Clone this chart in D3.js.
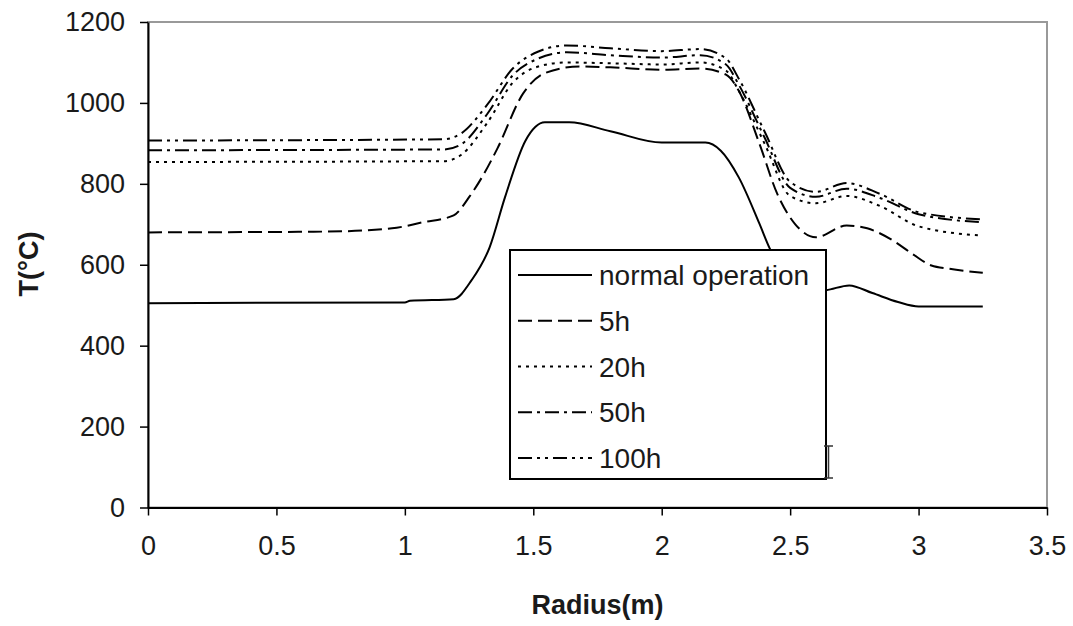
<!DOCTYPE html>
<html>
<head>
<meta charset="utf-8">
<script src="https://cdn.jsdelivr.net/npm/d3@7/dist/d3.min.js"></script>
<style>
  html, body { margin: 0; padding: 0; background: #fff; }
  svg { display: block; }
  text { font-family: "Liberation Sans", Arial, sans-serif; fill: #1a1a1a; }
</style>
</head>
<body>
<svg id="chart" width="1073" height="626"></svg>
<script>
// Temperature profiles along the radius for several times after loss of cooling
const seriesNames = ["normal operation", "5h", "20h", "50h", "100h"];

const radiusNormal = [0, 1.0, 1.02, 1.19, 1.26, 1.33, 1.39, 1.47, 1.545, 1.64, 1.8, 2.0, 2.17, 2.23, 2.3, 2.38, 2.42, 2.5, 2.6, 2.64, 2.73, 2.82, 2.92, 3.0, 3.25];
const tempNormal   = [505, 507, 511, 515, 562, 643, 767, 907, 952, 952, 930, 902, 902, 882, 816, 702, 641, 565, 535, 537, 549, 530, 508, 497, 497];

const radius5h = [0, 0.7, 0.95, 1.07, 1.19, 1.25, 1.3, 1.36, 1.46, 1.55, 1.68, 1.8, 2.0, 2.15, 2.25, 2.3, 2.38, 2.45, 2.52, 2.6, 2.72, 2.8, 2.9, 2.98, 3.05, 3.12, 3.25];
const temp5h   = [680, 682, 690, 705, 722, 767, 816, 887, 1023, 1075, 1090, 1088, 1082, 1085, 1070, 1030, 900, 775, 700, 668, 697, 690, 660, 625, 598, 590, 580];

const radiusLong = [0, 1.15, 1.22, 1.32, 1.42, 1.52, 1.63, 1.8, 2.0, 2.15, 2.25, 2.3, 2.4, 2.5, 2.6, 2.72, 2.85, 3.0, 3.25];
const temp20h  = [854, 856, 872, 950, 1050, 1090, 1100, 1098, 1095, 1100, 1080, 1030, 900, 770, 752, 770, 745, 695, 672];
const temp50h  = [883, 885, 898, 972, 1068, 1110, 1125, 1118, 1112, 1118, 1095, 1045, 915, 790, 768, 788, 765, 725, 705];
const temp100h = [907, 910, 925, 995, 1085, 1127, 1142, 1135, 1128, 1133, 1110, 1060, 930, 805, 780, 802, 775, 730, 712];

const xTicks = [0, 0.5, 1, 1.5, 2, 2.5, 3, 3.5];
const yTicks = [0, 200, 400, 600, 800, 1000, 1200];

const seriesData = [
  { name: seriesNames[0], r: radiusNormal, t: tempNormal, dash: null },
  { name: seriesNames[1], r: radius5h, t: temp5h, dash: "14,6" },
  { name: seriesNames[2], r: radiusLong, t: temp20h, dash: "3,5" },
  { name: seriesNames[3], r: radiusLong, t: temp50h, dash: "14,5,3,5" },
  { name: seriesNames[4], r: radiusLong, t: temp100h, dash: "14,5,3,5,3,5" }
];

const svg = d3.select("#chart");
const plot = { left: 148, right: 1047, top: 22, bottom: 507.5 };

const x = d3.scaleLinear().domain([0, 3.5]).range([plot.left, plot.right]);
const y = d3.scaleLinear().domain([0, 1200]).range([plot.bottom, plot.top]);

// plot-area frame (top and right edges show in grey)
svg.append("rect")
  .attr("x", plot.left).attr("y", plot.top)
  .attr("width", plot.right - plot.left).attr("height", plot.bottom - plot.top)
  .attr("fill", "none").attr("stroke", "#999").attr("stroke-width", 2);

// curves
const line = d3.line()
  .x(d => x(d[0]))
  .y(d => y(d[1]))
  .curve(d3.curveMonotoneX);

svg.append("g").selectAll("path")
  .data(seriesData)
  .join("path")
  .attr("d", s => line(s.r.map((rv, i) => [rv, s.t[i]])))
  .attr("fill", "none")
  .attr("stroke", "#000")
  .attr("stroke-width", 2)
  .attr("stroke-dasharray", s => s.dash);

// axes
const fontSize = 27;
const xAxis = d3.axisBottom(x).tickValues(xTicks).tickSize(8).tickSizeOuter(0).tickPadding(20)
  .tickFormat(d => String(d));
const yAxis = d3.axisLeft(y).tickValues(yTicks).tickSize(8).tickSizeOuter(0).tickPadding(15)
  .tickFormat(d => String(d));

const gx = svg.append("g").attr("transform", `translate(0,${plot.bottom})`).call(xAxis);
const gy = svg.append("g").attr("transform", `translate(${plot.left},0)`).call(yAxis);

[gx, gy].forEach(g => {
  g.select(".domain").attr("stroke", "#000").attr("stroke-width", 2);
  g.selectAll(".tick line").attr("stroke", "#000").attr("stroke-width", 1.5);
  g.selectAll(".tick text")
    .attr("font-family", "Liberation Sans, Arial, sans-serif")
    .attr("font-size", fontSize)
    .attr("fill", "#1a1a1a");
});

// axis titles
svg.append("text")
  .attr("x", x(1.75)).attr("y", 614)
  .attr("text-anchor", "middle")
  .attr("font-size", fontSize).attr("font-weight", "bold")
  .text("Radius(m)");

svg.append("text")
  .attr("transform", "translate(38,264) rotate(-90)")
  .attr("text-anchor", "middle")
  .attr("font-size", fontSize).attr("font-weight", "bold")
  .text("T(°C)");

// legend
const legend = svg.append("g").attr("transform", "translate(510,250)");
legend.append("rect")
  .attr("width", 316).attr("height", 229)
  .attr("fill", "#fff").attr("stroke", "#000").attr("stroke-width", 2);

const rowY = d3.scalePoint().domain(seriesNames).range([25, 208]);
const items = legend.selectAll("g.item")
  .data(seriesData)
  .join("g")
  .attr("class", "item")
  .attr("transform", s => `translate(0,${rowY(s.name)})`);

items.append("line")
  .attr("x1", 8).attr("x2", 82)
  .attr("stroke", "#000").attr("stroke-width", 2)
  .attr("stroke-dasharray", s => s.dash);

items.append("text")
  .attr("x", 89).attr("dy", "0.36em")
  .attr("font-size", 28)
  .text(s => s.name);

// text-cursor glyph sitting by the legend's lower right corner
svg.append("path")
  .attr("d", "M824,446 L833,446 M828.5,446 L828.5,478 M824,478 L833,478")
  .attr("fill", "none").attr("stroke", "#333").attr("stroke-width", 1.5);
</script>
</body>
</html>
